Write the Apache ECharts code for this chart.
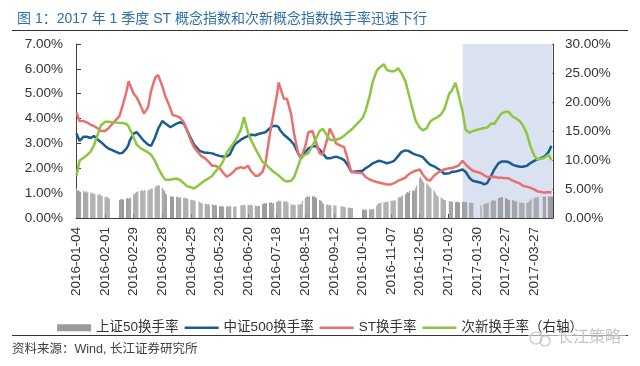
<!DOCTYPE html>
<html><head><meta charset="utf-8">
<script src="https://cdn.jsdelivr.net/npm/echarts@6/dist/echarts.min.js"></script>
<style>html,body{margin:0;padding:0;background:#fff}#c{width:640px;height:366px}</style>
</head><body><div id="c"></div>
<script>
// ---------- data ----------
const startDate = '2016-01-04';
const endDate = '2017-04-14';
const tickLabels = ['2016-01-04','2016-02-01','2016-02-29','2016-03-28','2016-04-25','2016-05-23','2016-06-20',
  '2016-07-18','2016-08-15','2016-09-12','2016-10-10','2016-11-07','2016-12-05','2017-01-02','2017-01-30',
  '2017-02-27','2017-03-27'];
const holidays = ['2016-02-08','2016-02-09','2016-02-10','2016-02-11','2016-02-12','2016-04-04','2016-05-02',
  '2016-06-09','2016-06-10','2016-09-15','2016-09-16','2016-10-03','2016-10-04','2016-10-05','2016-10-06',
  '2016-10-07','2017-01-02','2017-01-27','2017-01-30','2017-01-31','2017-02-01','2017-02-02','2017-04-03','2017-04-04'];
const shadeFrom = '2017-01-16';

// 上证50换手率 (%), one value per trading day
const sz50Turnover = [
  // 2016-01
  1.2,1.1,1.12,1.08,1.05, 1.1,1.06,1.04,1.08,1.02, 1.0,1.03,0.98,1.0,0.96, 0.95,0.92,0.97,0.9,0.88,
  // 2016-02
  0.85,0.82,0.86,0.8,0.78, 0.72,0.75,0.74,0.76,0.73, 0.78,0.8,0.77,0.82,0.8, 0.95,
  // 2016-03
  0.98,1.02,1.05,1.08, 1.1,1.12,1.08,1.1,1.13, 1.1,1.15,1.12,1.18,1.2, 1.25,1.3,1.28,1.33,1.3, 1.22,1.15,1.1,1.0,
  // 2016-04
  0.95, 0.88,0.85,0.87,0.84, 0.86,0.82,0.85,0.8,0.83, 0.8,0.82,0.78,0.8,0.76, 0.72,0.74,0.7,0.72,0.68,
  // 2016-05
  0.66,0.62,0.6,0.58, 0.55,0.57,0.54,0.56,0.53, 0.55,0.52,0.5,0.53,0.5, 0.47,0.48,0.46,0.49,0.45, 0.46,0.47,
  // 2016-06
  0.45,0.48,0.46, 0.44,0.47,0.45, 0.5,0.52,0.5,0.54,0.51, 0.53,0.5,0.52,0.55,0.5, 0.5,0.48,0.47,0.49,
  // 2016-07
  0.48, 0.55,0.58,0.6,0.57,0.6, 0.62,0.6,0.63,0.58,0.6, 0.64,0.67,0.7,0.66,0.68, 0.65,0.68,0.64,0.66,0.62,
  // 2016-08
  0.55,0.52,0.54,0.5,0.53, 0.55,0.52,0.56,0.54,0.68, 0.8,0.85,0.88,0.84,0.86, 0.9,0.85,0.88,0.82,0.8, 0.72,0.7,0.68,
  // 2016-09
  0.6,0.55, 0.52,0.55,0.5,0.53,0.5, 0.52,0.48,0.5, 0.48,0.45,0.46,0.44,0.43, 0.42,0.4,0.41,0.39,0.4,
  // 2016-10
  0.33,0.35,0.32,0.34,0.33, 0.35,0.33,0.36,0.34,0.37, 0.5,0.55,0.58,0.6,0.62, 0.64,
  // 2016-11
  0.62,0.65,0.63,0.66, 0.68,0.7,0.66,0.72,0.7, 0.8,0.85,0.82,0.88,0.9, 0.95,1.0,1.05,1.02,1.1, 1.1,1.12,1.08,
  // 2016-12
  1.2,1.3, 1.6,1.65,1.55,1.5,1.42, 1.4,1.35,1.28,1.25,1.2, 1.12,1.05,0.95,0.9,0.86, 0.82,0.78,0.75,0.72,0.7,
  // 2017-01
  0.68,0.66,0.65,0.67, 0.64,0.66,0.63,0.65,0.62, 0.64,0.66,0.63,0.65,0.62, 0.6,0.62,0.58,0.6,
  // 2017-02
  0.5, 0.55,0.58,0.56,0.6,0.62, 0.65,0.7,0.72,0.68,0.7, 0.78,0.82,0.8,0.85,0.82, 0.8,0.78,
  // 2017-03
  0.75,0.72,0.7, 0.72,0.7,0.68,0.66,0.65, 0.62,0.6,0.61,0.58,0.6, 0.6,0.62,0.65,0.7,0.75, 0.8,0.82,0.78,0.83,0.85,
  // 2017-04
  0.86,0.84,0.88, 0.86,0.88,0.85,0.87,0.86
];

const sampleDates = [
  '2016-01-04','2016-01-07','2016-01-11','2016-01-14','2016-01-18','2016-01-21','2016-01-25','2016-01-28','2016-02-01','2016-02-04',
  '2016-02-15','2016-02-18','2016-02-22','2016-02-24','2016-02-25','2016-02-29','2016-03-03','2016-03-07','2016-03-10','2016-03-14',
  '2016-03-17','2016-03-21','2016-03-24','2016-03-28','2016-03-31','2016-04-05','2016-04-07','2016-04-11','2016-04-14','2016-04-18',
  '2016-04-21','2016-04-25','2016-04-28','2016-05-03','2016-05-05','2016-05-09','2016-05-12','2016-05-16','2016-05-19','2016-05-23',
  '2016-05-26','2016-05-30','2016-06-02','2016-06-06','2016-06-08','2016-06-13','2016-06-16','2016-06-20','2016-06-23','2016-06-27',
  '2016-06-30','2016-07-04','2016-07-07','2016-07-11','2016-07-14','2016-07-18','2016-07-20','2016-07-21','2016-07-25','2016-07-28',
  '2016-08-01','2016-08-04','2016-08-08','2016-08-11','2016-08-15','2016-08-18','2016-08-22','2016-08-25','2016-08-29','2016-09-01',
  '2016-09-05','2016-09-08','2016-09-12','2016-09-14','2016-09-19','2016-09-22','2016-09-26','2016-09-29','2016-10-10','2016-10-13',
  '2016-10-17','2016-10-20','2016-10-24','2016-10-27','2016-10-31','2016-11-03','2016-11-07','2016-11-10','2016-11-14','2016-11-17',
  '2016-11-21','2016-11-24','2016-11-28','2016-12-01','2016-12-05','2016-12-08','2016-12-12','2016-12-15','2016-12-19','2016-12-22',
  '2016-12-26','2016-12-29','2017-01-03','2017-01-05','2017-01-09','2017-01-12','2017-01-16','2017-01-19','2017-01-23','2017-01-26',
  '2017-02-03','2017-02-06','2017-02-09','2017-02-13','2017-02-16','2017-02-20','2017-02-23','2017-02-27','2017-03-02','2017-03-06',
  '2017-03-09','2017-03-13','2017-03-16','2017-03-20','2017-03-23','2017-03-27','2017-03-30','2017-04-05','2017-04-07','2017-04-10',
  '2017-04-13'
];
// 中证500换手率 (%)
const zz500Turnover = [
  3.4,3.1,3.27,3.27,3.22,3.3,3.15,3.05,2.9,2.8,
  2.6,2.62,2.8,2.95,3.1,3.4,3.45,3.25,3.1,2.95,
  2.9,3.25,3.6,3.9,3.8,3.65,3.7,3.8,3.85,3.8,
  3.55,3.2,2.95,2.72,2.68,2.62,2.62,2.6,2.55,2.5,
  2.47,2.48,2.55,2.9,3.0,3.15,3.22,3.3,3.35,3.33,
  3.38,3.42,3.45,3.6,3.7,3.7,3.65,3.55,3.35,3.25,
  3.1,2.95,2.6,2.4,2.65,2.8,2.88,2.9,2.75,2.6,
  2.4,2.4,2.45,2.47,2.4,2.33,2.1,1.85,1.9,2.0,
  2.1,2.2,2.27,2.3,2.25,2.2,2.25,2.3,2.5,2.65,
  2.72,2.7,2.6,2.55,2.5,2.45,2.27,2.15,2.08,2.0,
  1.9,1.78,1.8,1.85,1.87,1.9,1.95,1.85,1.6,1.5,
  1.42,1.35,1.4,1.7,1.95,2.2,2.27,2.27,2.25,2.15,
  2.1,2.06,2.06,2.1,2.2,2.3,2.35,2.45,2.5,2.65,
  2.9
];
// ST换手率 (%)
const stTurnover = [
  4.25,3.9,3.9,3.85,3.75,3.7,3.6,3.5,3.5,3.6,
  4.1,4.5,5.1,5.5,5.4,5.0,4.85,4.5,4.2,4.45,
  5.1,5.65,5.75,5.3,4.9,4.4,4.15,4.1,4.05,3.85,
  3.55,3.1,2.85,2.6,2.5,2.4,2.28,2.1,2.1,2.02,
  1.85,1.66,1.73,1.87,1.97,2.05,2.0,2.1,1.88,1.7,
  1.7,1.85,2.2,3.3,4.0,4.9,5.45,5.3,4.8,4.8,
  4.2,3.4,2.6,2.42,2.9,3.45,3.5,3.1,2.6,2.55,
  3.1,3.6,3.25,3.0,2.9,2.85,2.3,1.85,1.8,1.65,
  1.55,1.5,1.45,1.42,1.38,1.35,1.35,1.4,1.5,1.55,
  1.62,1.75,1.85,1.9,1.95,1.75,1.55,1.5,1.7,1.8,
  1.9,1.95,2.0,2.0,2.06,2.1,2.3,2.15,2.0,1.9,
  1.8,1.72,1.65,1.65,1.66,1.62,1.62,1.6,1.6,1.5,
  1.45,1.39,1.3,1.26,1.22,1.15,1.08,1.03,1.03,1.05,
  1.03
];
// 次新换手率 (%), right axis
const cixinTurnover = [
  7.3,9.9,10.4,10.8,11.5,12.5,14.5,16.0,16.6,16.6,
  16.4,16.4,16.2,15.8,15.4,13.9,12.6,12.0,11.7,11.3,
  10.9,9.8,8.6,7.3,6.6,6.6,6.7,6.8,6.6,6.0,
  5.5,5.3,5.1,5.7,6.0,6.5,6.8,7.3,8.0,8.8,
  9.6,11.2,12.0,13.0,13.5,15.3,17.4,14.6,13.4,12.0,
  11.0,9.7,9.3,8.6,8.1,7.6,7.3,7.1,6.5,6.3,
  6.4,7.0,9.0,10.5,10.9,11.2,12.5,13.5,15.0,15.4,
  14.3,13.5,13.4,13.5,13.8,14.2,14.8,15.2,17.2,18.5,
  21.0,23.5,25.4,26.0,26.5,25.5,25.3,25.3,25.8,25.0,
  23.6,21.5,18.8,16.8,15.6,15.1,15.5,16.6,17.1,17.3,
  17.9,18.7,21.5,21.8,23.3,21.3,18.3,15.2,14.7,15.0,
  15.4,15.5,15.6,16.3,16.2,17.3,18.0,18.3,18.3,17.5,
  17.2,16.7,16.0,14.5,12.6,10.8,10.1,10.3,10.5,10.9,
  10.0
];

// ---------- build ----------
function fmt(d){ return d.toISOString().slice(0,10); }
const categories = [];
const tradingDays = [];
const holidaySet = new Set(holidays);
for (let t = Date.parse(startDate + 'T00:00:00Z'); t <= Date.parse(endDate + 'T00:00:00Z'); t += 86400000) {
  const d = new Date(t);
  const s = fmt(d);
  categories.push(s);
  const wd = d.getUTCDay();
  if (wd !== 0 && wd !== 6 && !holidaySet.has(s)) tradingDays.push(s);
}
const barMap = new Map();
tradingDays.forEach((s, i) => { if (i < sz50Turnover.length) barMap.set(s, sz50Turnover[i]); });
const barData = categories.map(c => barMap.has(c) ? barMap.get(c) : null);
const pairs = arr => sampleDates.map((d, i) => [d, arr[i]]);
const tickSet = new Set(tickLabels);
const showTick = (idx, val) => tickSet.has(val);

const FONT = '"Liberation Sans", Arial, "Noto Sans CJK SC", sans-serif';
const AX = '#404040';
const LINE_ICON = 'path://M0,0L34,0L34,2.5L0,2.5Z';
const chart = echarts.init(document.getElementById('c'), null, {renderer: 'canvas'});
chart.setOption({
  animation: false,
  textStyle: {fontFamily: FONT},
  title: {
    text: '图 1：2017 年 1 季度 ST 概念指数和次新概念指数换手率迅速下行',
    left: 12, top: 7,
    textStyle: {fontSize: 14, fontWeight: 'normal', color: '#2F6FA6', fontFamily: FONT}
  },
  grid: {left: 76, right: 87, top: 44, bottom: 148},
  legend: {
    top: 316, left: 'center', itemWidth: 34, itemHeight: 7, itemGap: 6, symbolKeepAspect: true,
    textStyle: {fontSize: 13.5, color: '#333', fontFamily: FONT},
    data: [
      {name: '上证50换手率', icon: 'rect'},
      {name: '中证500换手率', icon: LINE_ICON},
      {name: 'ST换手率', icon: LINE_ICON},
      {name: '次新换手率（右轴）', icon: LINE_ICON}
    ]
  },
  xAxis: {
    type: 'category', data: categories, boundaryGap: true,
    axisLine: {show: true, lineStyle: {color: AX, width: 1}},
    axisTick: {show: true, inside: true, length: 4, alignWithLabel: true, interval: showTick, lineStyle: {color: AX}},
    axisLabel: {rotate: 90, interval: showTick, fontSize: 13.5, color: '#333', margin: 9, fontFamily: FONT},
    splitLine: {show: false}
  },
  yAxis: [
    {type: 'value', min: 0, max: 7, interval: 1, position: 'left', splitLine: {show: false},
     axisLine: {show: true, lineStyle: {color: AX}},
     axisTick: {show: true, inside: true, length: 5, lineStyle: {color: AX}},
     axisLabel: {formatter: v => v.toFixed(2) + '%', fontSize: 13.5, color: '#333', margin: 13, fontFamily: FONT}},
    {type: 'value', min: 0, max: 30, interval: 5, position: 'right', splitLine: {show: false},
     axisLine: {show: true, lineStyle: {color: AX}},
     axisTick: {show: true, inside: true, length: 5, lineStyle: {color: AX}},
     axisLabel: {formatter: v => v.toFixed(2) + '%', fontSize: 13.5, color: '#333', margin: 12, fontFamily: FONT}}
  ],
  series: [
    {name: 'shade', type: 'line', data: [], z: 0, silent: true,
     markArea: {silent: true, itemStyle: {color: '#DAE1F1'},
       data: [[{xAxis: shadeFrom}, {xAxis: endDate}]]}},
    {name: '上证50换手率', type: 'bar', data: barData, barWidth: '50%', yAxisIndex: 0, z: 2,
     itemStyle: {color: '#9A9A9A'}},
    {name: '中证500换手率', type: 'line', data: pairs(zz500Turnover), yAxisIndex: 0, symbol: 'none', z: 3,
     lineStyle: {width: 2.5, color: '#1A5C8E'}, itemStyle: {color: '#1A5C8E'}},
    {name: 'ST换手率', type: 'line', data: pairs(stTurnover), yAxisIndex: 0, symbol: 'none', z: 3,
     lineStyle: {width: 2.5, color: '#E8706F'}, itemStyle: {color: '#E8706F'}},
    {name: '次新换手率（右轴）', type: 'line', data: pairs(cixinTurnover), yAxisIndex: 1, symbol: 'none', z: 3,
     lineStyle: {width: 2.5, color: '#8DC641'}, itemStyle: {color: '#8DC641'}}
  ],
  graphic: [
    {type: 'line', shape: {x1: 12, y1: 30.5, x2: 628, y2: 30.5}, style: {stroke: '#333', lineWidth: 1}, silent: true},
    {type: 'line', shape: {x1: 12, y1: 335.5, x2: 628, y2: 335.5}, style: {stroke: '#333', lineWidth: 1}, silent: true},
    {type: 'text', left: 12, top: 343, style: {text: '资料来源：Wind, 长江证券研究所', fontSize: 12.5, fill: '#404040', fontFamily: FONT}, silent: true},
    {type: 'rect', shape: {x: 528, y: 329, width: 98, height: 20}, style: {fill: 'rgba(255,255,255,0.55)'}, silent: true},
    {type: 'circle', shape: {cx: 536, cy: 338, r: 6}, style: {fill: 'none', stroke: '#c4c4c4', lineWidth: 1.2}, silent: true},
    {type: 'circle', shape: {cx: 545, cy: 341, r: 5}, style: {fill: 'none', stroke: '#c4c4c4', lineWidth: 1.2}, silent: true},
    {type: 'text', left: 557, top: 330, style: {text: '长江策略', fontSize: 16, fill: '#c4c4c4', fontFamily: FONT}, silent: true}
  ]
});
</script>
</body></html>
